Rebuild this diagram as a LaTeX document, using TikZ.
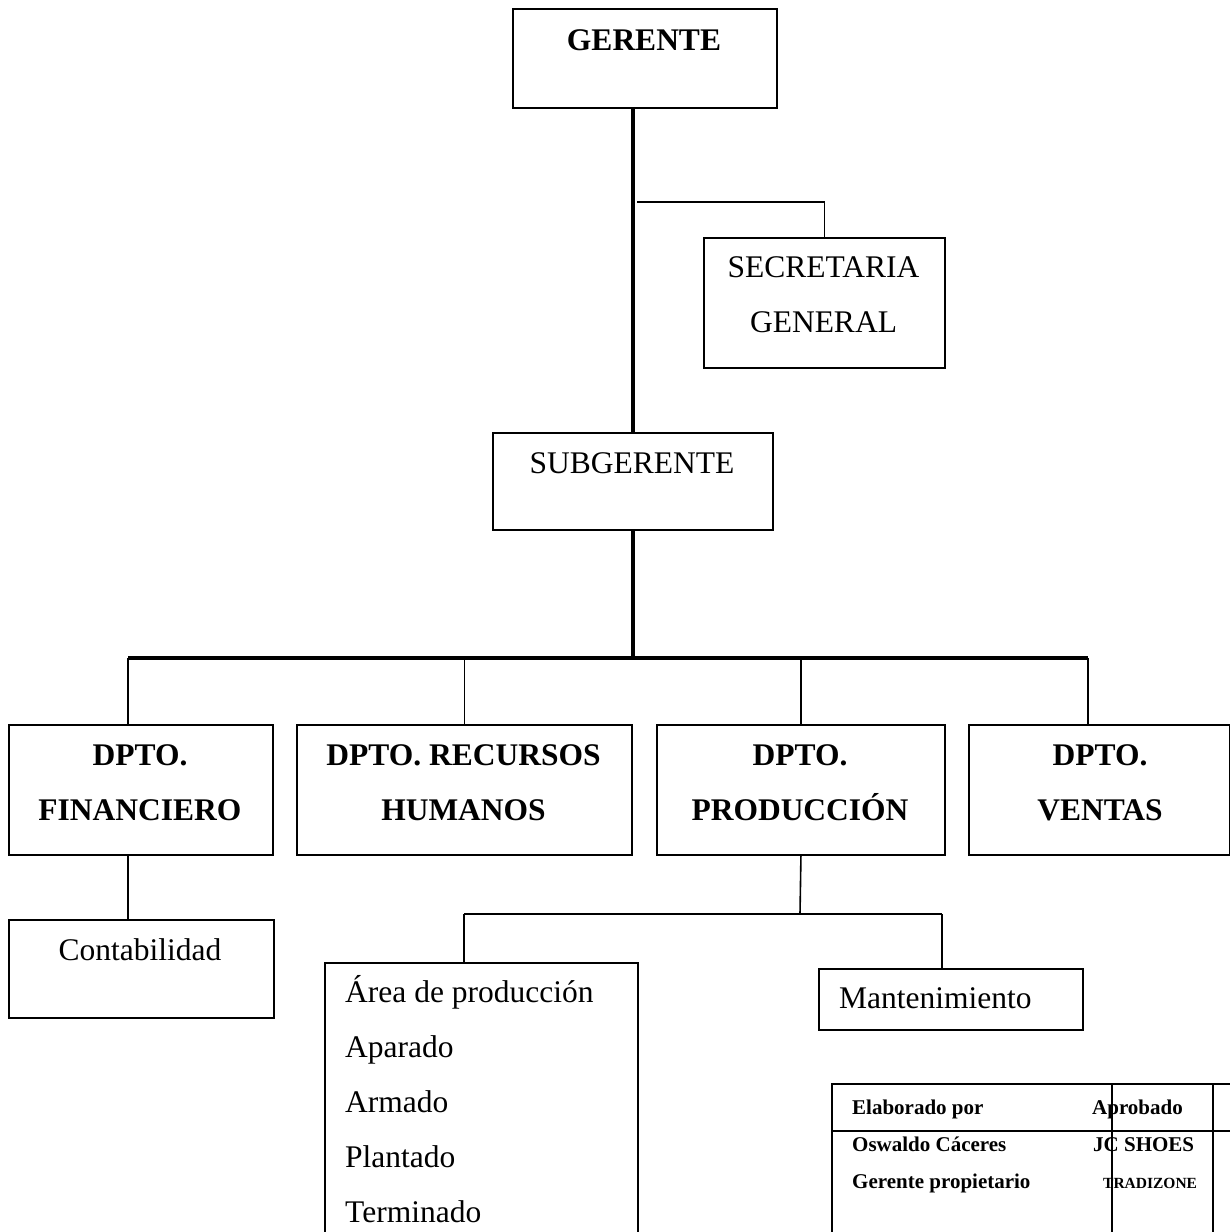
\documentclass[tikz,border=0pt]{standalone}
\usepackage{fontspec}
\setmainfont{Liberation Serif}
\usepackage{tikz}

\begin{document}
\begin{tikzpicture}[x=1pt,y=-1pt]
	\tikzstyle{box}=[draw,line width=1.9pt,inner sep=0pt,anchor=north west]
	\tikzstyle{txt}=[anchor=base,inner sep=0pt,font=\fontsize{31.5}{38}\selectfont]
	\tikzstyle{btxt}=[txt,font=\bfseries\fontsize{31.5}{38}\selectfont]
	\tikzstyle{ltxt}=[txt,anchor=base west]
	\tikzstyle{ttxt}=[anchor=base west,inner sep=0pt,font=\bfseries\fontsize{21}{25}\selectfont]
	\tikzstyle{link}=[line width=1.6pt]
	\tikzstyle{spine}=[line width=3.8pt]
	
	\useasboundingbox (0,0) rectangle (1230,1232);
	\clip (0,0) rectangle (1230,1232);
	
	% boxes
	\node[box,minimum width=264,minimum height=99] at (512,8) (ger) {};
	\node[box,minimum width=241,minimum height=130] at (703,237) (sec) {};
	\node[box,minimum width=280,minimum height=97] at (492,432) (sub) {};
	
	\node[box,minimum width=264,minimum height=130] at (8,724) (fin) {};
	\node[box,minimum width=335,minimum height=130] at (296,724) (rrhh) {};
	\node[box,minimum width=288,minimum height=130] at (656,724) (prod) {};
	\node[box,minimum width=261,minimum height=130] at (968,724) (vent) {};
	
	\node[box,minimum width=265,minimum height=98] at (8,919) (cont) {};
	\node[box,minimum width=313,minimum height=300] at (324,962) (area) {};
	\node[box,minimum width=264,minimum height=61] at (818,968) (mant) {};
	
	% texts
	\node[btxt] at (644,50) (gert) {GERENTE};
	\node[txt] at (823.5,277) (sect1) {SECRETARIA};
	\node[txt] at (823.5,332) (sect2) {GENERAL};
	\node[txt] at (632,473) (subt) {SUBGERENTE};
	
	\node[btxt] at (140,765) (fint1) {DPTO.};
	\node[btxt] at (140,820) (fint2) {FINANCIERO};
	\node[btxt] at (463.5,765) (rrhht1) {DPTO. RECURSOS};
	\node[btxt] at (463.5,820) (rrhht2) {HUMANOS};
	\node[btxt] at (800,765) (prodt1) {DPTO.};
	\node[btxt] at (800,820) (prodt2) {PRODUCCIÓN};
	\node[btxt] at (1100,765) (ventt1) {DPTO.};
	\node[btxt] at (1100,820) (ventt2) {VENTAS};
	
	\node[txt] at (140,960) (contt) {Contabilidad};
	\node[ltxt] at (345,1002) (areat1) {Área de producción};
	\node[ltxt] at (345,1057) (areat2) {Aparado};
	\node[ltxt] at (345,1112) (areat3) {Armado};
	\node[ltxt] at (345,1167) (areat4) {Plantado};
	\node[ltxt] at (345,1222) (areat5) {Terminado};
	\node[ltxt] at (839,1008) (mantt) {Mantenimiento};
	
	% connectors
	\coordinate (secj) at (637,202);
	\coordinate (barl) at (128,658);
	\coordinate (barr) at (1088,658);
	\coordinate (pj) at (800,914);
	\coordinate (aj) at (464,914);
	\coordinate (mj) at (942,914);
	
	\draw[spine] (sub.north) -- (sub.north |- ger.south);
	\draw[spine] (sub.south) -- (sub.south |- barl);
	\draw[spine] (barl) -- (barr);
	\draw[link] (sec.north) |- (secj);
	
	\draw[link] (barl) -- (barl |- fin.north);
	\draw[link] (rrhh.north) -- (rrhh.north |- barl);
	\draw[link] (prod.north) -- (prod.north |- barl);
	\draw[link] (barr) -- (barr |- vent.north);
	
	\draw[link] (barl |- fin.south) -- (barl |- cont.north);
	\draw[link] (prod.south) -- (pj);
	\draw[link] (aj) -- (mj);
	\draw[link] (aj) -- (aj |- area.north);
	\draw[link] (mj) -- (mj |- mant.north);
	
	% approval table
	\node[box,minimum width=420,minimum height=170] at (831,1083) (tab) {};
	\draw[box] (tab.west |- 0,1131) -- (tab.east |- 0,1131);
	\draw[link] (1112,1083) -- (1112,1253);
	\draw[link] (1213,1083) -- (1213,1253);
	\node[ttxt] at (852,1114) (elab) {Elaborado por};
	\node[ttxt] at (1092,1114) (apro) {Aprobado};
	\node[ttxt] at (852,1151) (osw) {Oswaldo Cáceres};
	\node[ttxt] at (1093,1151) (jcs) {JC SHOES};
	\node[ttxt] at (852,1188) (gprop) {Gerente propietario};
	\node[ttxt,font=\bfseries\fontsize{15.5}{18}\selectfont] at (1103,1188) (trad) {TRADIZONE};
\end{tikzpicture}
\end{document}
